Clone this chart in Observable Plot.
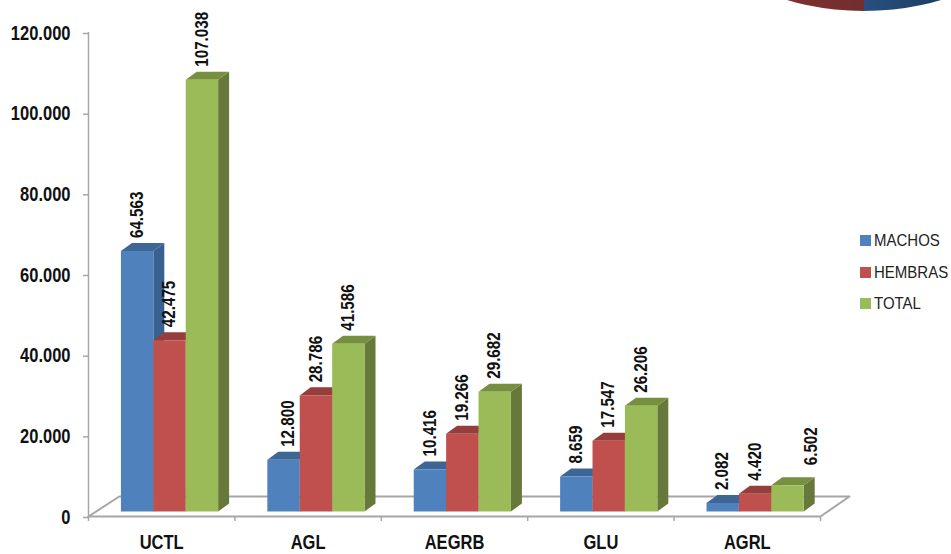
<!DOCTYPE html>
<html>
<head>
<meta charset="utf-8">
<script src="https://cdn.jsdelivr.net/npm/d3@7"></script>
<script src="https://cdn.jsdelivr.net/npm/@observablehq/plot@0.6"></script>
<style>
html,body{margin:0;padding:0;background:#fff;overflow:hidden}
#wrap{position:relative;width:951px;height:554px;overflow:hidden;font-family:"Liberation Sans",Arial,sans-serif}
.pie{position:absolute;top:-144px;width:150px;height:155px}
.pie.l{left:714px;border-radius:150px 0 0 150px/77.5px 0 0 77.5px;background:linear-gradient(90deg,#8c3331,#712e2e)}
.pie.r{left:864px;border-radius:0 150px 150px 0/0 77.5px 77.5px 0;background:linear-gradient(90deg,#27507f,#142c47)}
#legend{position:absolute;left:860px;top:231px;font-size:15px;color:#222}
#legend div{height:31.5px;line-height:19px;white-space:nowrap}
#legend i{display:inline-block;width:11px;height:11px;margin-right:3px}
#legend span{display:inline-block;transform:scaleY(1.13);transform-origin:50% 60%}
</style>
</head>
<body>
<div id="wrap"><div class="pie l"></div><div class="pie r"></div><div id="legend"></div></div>
<script>
const categories = ["UCTL","AGL","AEGRB","GLU","AGRL"];
const seriesNames = ["MACHOS","HEMBRAS","TOTAL"];
const machos  = [64563,12800,10416,8659,2082];
const hembras = [42475,28786,19266,17547,4420];
const total   = [107038,41586,29682,26206,6502];
const yTicks = [0,20000,40000,60000,80000,100000,120000];

const seriesValues = [machos,hembras,total];
const front = ["#4f81bd","#c0504d","#9bbb59"];
const topC  = ["#3d6596","#963e3b","#77903f"];
const side  = ["#386090","#8c3a38","#66783a"];

// geometry in data units (x: one category = 1, y: value units)
const barW = 0.2213, barStart = 0.2215, lift = 1240;
const depX = 0.075, depY = 1990;
const floorX = 0.21, floorY = 4960;

const faces = [];
let id = 0;
function face(color, pts){ id++; pts.forEach(p => faces.push({id, color, x:p[0], y:p[1]})); }
categories.forEach((c,i) => {
  seriesValues.forEach((vals,s) => {
    const x0 = i + barStart + s*barW, x1 = x0 + barW, y0 = lift, y1 = lift + vals[i];
    face(side[s],[[x1,y0],[x1+depX,y0+depY],[x1+depX,y1+depY],[x1,y1]]);
    face(topC[s],[[x0,y1],[x1,y1],[x1+depX,y1+depY],[x0+depX,y1+depY]]);
    face(front[s],[[x0,y0],[x1,y0],[x1,y1],[x0,y1]]);
  });
});
const floor = [[0,0],[floorX,floorY],[5+floorX-0.012,floorY],[5,0],[0,0]].map(p=>({x:p[0],y:p[1]}));

// manual nudges of the two labels that the reference moved aside
const nudge = {"AGL|MACHOS":[5,0],"AGRL|TOTAL":[24,-7]};
const labels = [];
categories.forEach((c,i) => seriesValues.forEach((vals,s) => {
  const n = nudge[c+"|"+seriesNames[s]] || [0,0];
  labels.push({x:i+barStart+(s+.5)*barW, y:lift+vals[i]+depY, v:vals[i], nx:n[0], ny:n[1]});
}));
const fmt = d => d3.format(",")(d).replace(/,/g,".");

const chart = Plot.plot({
  width:951, height:554,
  marginLeft:88, marginRight:131, marginTop:32, marginBottom:38,
  style:{background:"transparent",fontFamily:"'Liberation Sans',Arial,sans-serif",overflow:"visible"},
  x:{domain:[0,5],axis:null},
  y:{domain:[0,120000],axis:null},
  color:{type:"identity"},
  marks:[
    Plot.line(floor,{x:"x",y:"y",stroke:"#a6a6a6",strokeWidth:2,fill:"#fff"}),
    Plot.ruleX([0],{y1:0,y2:120000,stroke:"#a6a6a6",strokeWidth:1.5}),
    Plot.axisY({ticks:yTicks,tickSize:5,tickPadding:13,tickFormat:fmt,label:null,stroke:"#a6a6a6",dy:1,
      fontSize:16.5,fontWeight:"bold",fill:"#111",strokeWidth:1.5}),
    Plot.axisX({ticks:[0,1,2,3,4,5],tickSize:5,tickFormat:()=>"",label:null,stroke:"#a6a6a6",strokeWidth:1.5}),
    Plot.line(faces,{x:"x",y:"y",z:"id",fill:"color",stroke:null}),
    Plot.text(labels,{x:"x",y:"y",text:d=>fmt(d.v),rotate:-90,textAnchor:"start",dy:-5,
      fontSize:15.2,fontWeight:"bold",fill:"#111",
      render(index,scales,values,dims,ctx,next){
        const g = next(index,scales,values,dims,ctx);
        d3.select(g).selectAll("text").each(function(_,k){
          const d = labels[index[k]];
          const t = this.getAttribute("transform");
          this.setAttribute("transform",`translate(${d.nx},${d.ny}) ${t}`);
        });
        return g;
      }}),
    Plot.text(categories,{x:(d,i)=>i+.5,y:()=>0,text:d=>d,dy:26,fontSize:16.5,fontWeight:"bold",fill:"#111"})
  ]
});
chart.style.position="absolute"; chart.style.left="0"; chart.style.top="0";
document.getElementById("wrap").appendChild(chart);

// the reference's text is slightly condensed: taller glyphs at the same length
chart.querySelectorAll("text").forEach(t => {
  const len = t.getComputedTextLength();
  if(!len) return;
  const fs = parseFloat(getComputedStyle(t).fontSize);
  t.style.fontSize = (fs*1.17)+"px";
  t.setAttribute("textLength",len);
  t.setAttribute("lengthAdjust","spacingAndGlyphs");
});

const lg = document.getElementById("legend");
seriesNames.forEach((n,s)=>{
  const row=document.createElement("div");
  const sw=document.createElement("i"); sw.style.background=front[s];
  const sp=document.createElement("span"); sp.textContent=n;
  row.appendChild(sw); row.appendChild(sp);
  lg.appendChild(row);
});
</script>
</body>
</html>
